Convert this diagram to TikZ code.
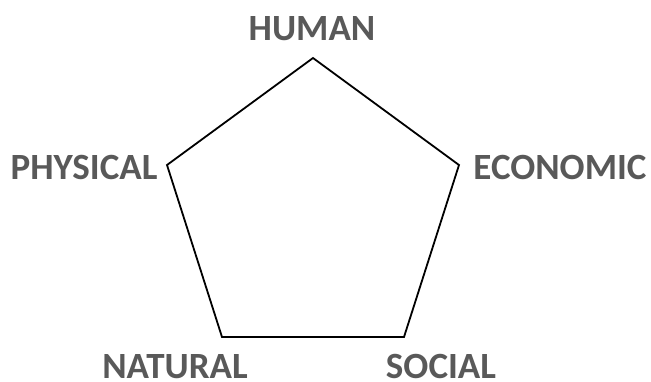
\documentclass[tikz,border=0pt]{standalone}
\usepackage{fontspec}
\setmainfont{Carlito}
\definecolor{labelgray}{HTML}{595959}
\begin{document}
\begin{tikzpicture}[x=1pt,y=-1pt,
  lbl/.style={font=\fontsize{37}{37}\selectfont\bfseries, text=labelgray, inner sep=0pt, anchor=base},
  edge/.style={draw=black, line width=1.8pt, line join=miter}]
\useasboundingbox (0,0) rectangle (651,381);
\coordinate (top) at (313,58);
\coordinate (right) at (459,165);
\coordinate (br) at (404,337);
\coordinate (bl) at (222,337);
\coordinate (left) at (167,165);
\draw[edge] (top) -- (right) -- (br) -- (bl) -- (left) -- cycle;
\node[lbl] (human) at (312,40) {HUMAN};
\node[lbl] (physical) at (84,179) {PHYSICAL};
\node[lbl] (economic) at (560,179) {ECONOMIC};
\node[lbl] (natural) at (175,378) {NATURAL};
\node[lbl] (social) at (441,378) {SOCIAL};
\end{tikzpicture}
\end{document}
